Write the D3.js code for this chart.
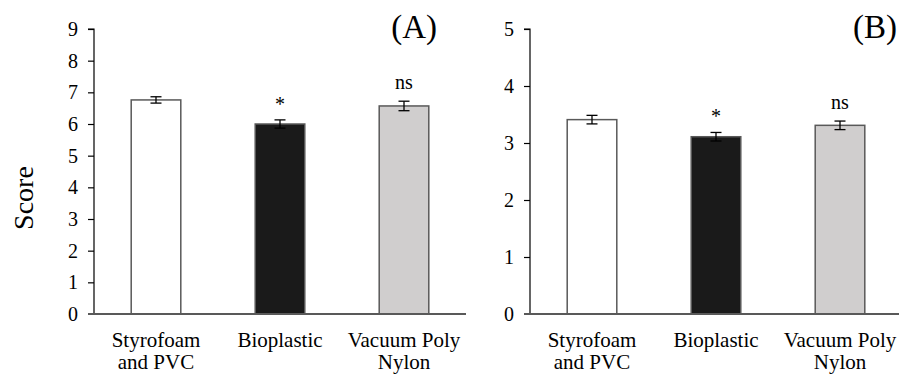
<!DOCTYPE html>
<html>
<head>
<meta charset="utf-8">
<script src="https://cdn.jsdelivr.net/npm/d3@7"></script>
<style>
  body { margin: 0; background: #fff; }
  svg text { font-family: "Liberation Serif", "Times New Roman", serif; fill: #000; }
</style>
</head>
<body>
<svg id="chart" width="899" height="374"></svg>
<script>
// data
const categories = ["Styrofoam and PVC", "Bioplastic", "Vacuum Poly Nylon"];
const catLines = [["Styrofoam", "and PVC"], ["Bioplastic"], ["Vacuum Poly", "Nylon"]];
const valuesA = [6.76, 6.0, 6.57];
const errorsA = [0.1, 0.13, 0.15];
const valuesB = [3.41, 3.11, 3.31];
const errorsB = [0.075, 0.075, 0.075];
const marks = ["", "*", "ns"];
const ticksA = [0, 1, 2, 3, 4, 5, 6, 7, 8, 9];
const ticksB = [0, 1, 2, 3, 4, 5];
const fills = ["#ffffff", "#1a1a1a", "#d0cece"];

const svg = d3.select("#chart");

function drawPanel(opt) {
  const g = svg.append("g");
  const y = d3.scaleLinear().domain([0, opt.max]).range([314, 29]);
  const x = d3.scaleBand().domain(categories).range([opt.left, opt.left + 372]).paddingInner(0.6).paddingOuter(0.3);

  // bars
  g.selectAll("rect.bar")
    .data(opt.values)
    .join("rect")
    .attr("class", "bar")
    .attr("x", (d, i) => x(categories[i]))
    .attr("y", (d) => y(d))
    .attr("width", x.bandwidth())
    .attr("height", (d) => y(0) - y(d))
    .attr("fill", (d, i) => fills[i])
    .attr("stroke", "#595959")
    .attr("stroke-width", 1.5);

  // error bars
  const cx = (i) => x(categories[i]) + x.bandwidth() / 2;
  opt.values.forEach((v, i) => {
    const e = opt.errors[i];
    const eg = g.append("g").attr("stroke", "#000").attr("stroke-width", 1.3);
    eg.append("line").attr("x1", cx(i)).attr("x2", cx(i)).attr("y1", y(v - e)).attr("y2", y(v + e));
    eg.append("line").attr("x1", cx(i) - 5.5).attr("x2", cx(i) + 5.5).attr("y1", y(v - e)).attr("y2", y(v - e));
    eg.append("line").attr("x1", cx(i) - 5.5).attr("x2", cx(i) + 5.5).attr("y1", y(v + e)).attr("y2", y(v + e));
    if (marks[i]) {
      g.append("text")
        .attr("x", cx(i))
        .attr("y", y(v + e) - (marks[i] === "*" ? 9 : 12))
        .attr("text-anchor", "middle")
        .style("font-size", marks[i] === "*" ? "20px" : "20px")
        .text(marks[i]);
    }
  });

  // y axis
  const yAxis = d3.axisLeft(y).tickValues(opt.ticks).tickSize(6).tickPadding(10).tickFormat(d3.format("d"));
  const ya = g.append("g").attr("transform", `translate(${opt.left},0)`).call(yAxis);
  ya.select(".domain").attr("stroke", "#000").attr("stroke-width", 1.2).attr("d", `M-6,${y(opt.max)}H0V${y(0)}`);
  ya.selectAll(".tick line").attr("stroke", "#000").attr("stroke-width", 1.2);
  ya.selectAll(".tick text").style("font-size", "20px").attr("font-family", null);
  ya.selectAll(".tick").filter((d) => d === 0).select("line").remove();

  // x axis baseline
  g.append("line")
    .attr("x1", opt.left - 6)
    .attr("x2", opt.left + 372)
    .attr("y1", y(0))
    .attr("y2", y(0))
    .attr("stroke", "#595959")
    .attr("stroke-width", 1.8);

  // category labels
  catLines.forEach((lines, i) => {
    const t = g.append("text")
      .attr("x", cx(i))
      .attr("y", 347)
      .attr("text-anchor", "middle")
      .style("font-size", "21px");
    lines.forEach((l, j) => {
      t.append("tspan").attr("x", cx(i)).attr("dy", j === 0 ? 0 : 22).text(l);
    });
  });

  // panel tag
  g.append("text")
    .attr("x", opt.tagX)
    .attr("y", 38)
    .attr("text-anchor", "end")
    .style("font-size", "33px")
    .text(opt.tag);
}

drawPanel({ left: 94, max: 9, values: valuesA, errors: errorsA, ticks: ticksA, tag: "(A)", tagX: 437 });
drawPanel({ left: 530, max: 5, values: valuesB, errors: errorsB, ticks: ticksB, tag: "(B)", tagX: 897 });

svg.append("text")
  .attr("transform", "translate(33,198) rotate(-90)")
  .attr("text-anchor", "middle")
  .style("font-size", "28px")
  .text("Score");
</script>
</body>
</html>
